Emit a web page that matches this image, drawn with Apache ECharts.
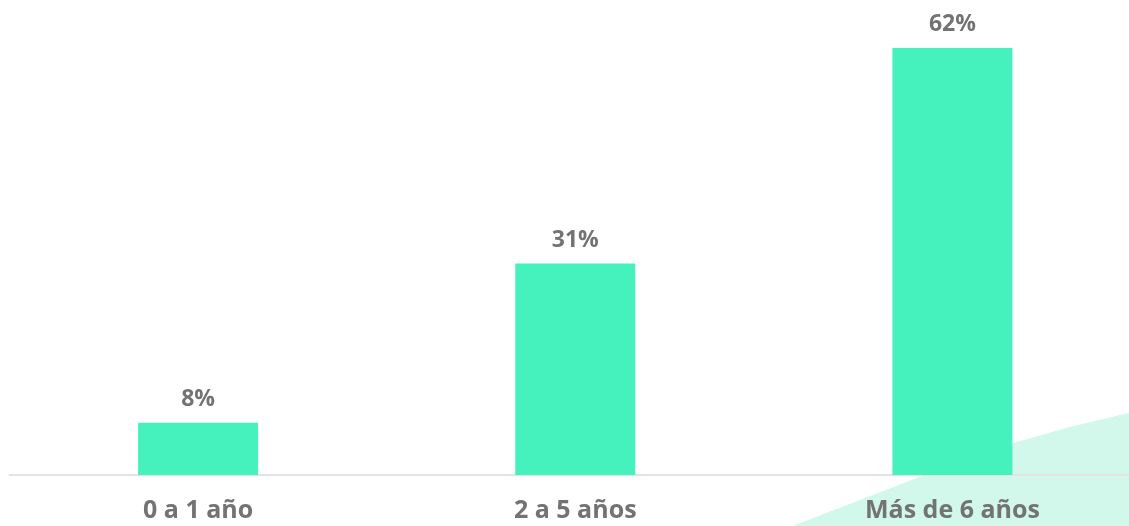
<!DOCTYPE html>
<html>
<head>
<meta charset="utf-8">
<script src="https://cdn.jsdelivr.net/npm/echarts@6/dist/echarts.min.js"></script>
<style>
html,body{margin:0;padding:0;background:#fff;overflow:hidden;width:1129px;height:526px;}
#c{width:1141px;height:526px;}
</style>
</head>
<body>
<div id="c"></div>
<script>
const categories = ['0 a 1 año', '2 a 5 años', 'Más de 6 años'];
const values = [7.6, 30.7, 62.0];

const chart = echarts.init(document.getElementById('c'), null, {renderer: 'canvas'});
chart.setOption({
  animation: false,
  backgroundColor: '#ffffff',
  graphic: [{
    type: 'polygon',
    z: 0,
    silent: true,
    shape: {points: [[790, 527], [917, 478], [1013, 443], [1070, 427], [1141, 410], [1141, 527]]},
    style: {fill: '#d1f8ea'}
  }],
  grid: {left: 9.5, right: 0, top: 48, bottom: 51, containLabel: false},
  xAxis: {
    type: 'category',
    data: categories,
    axisLine: {show: true, lineStyle: {color: '#e3e3e3', width: 2}},
    axisTick: {show: false},
    axisLabel: {
      color: '#737373', fontFamily: 'Open Sans', fontWeight: 'bold', fontSize: 25, margin: 23
    }
  },
  yAxis: {
    type: 'value', min: 0, max: 62,
    show: false, splitLine: {show: false}
  },
  series: [{
    type: 'bar',
    z: 2,
    data: values,
    barWidth: 120,
    itemStyle: {color: '#45f2bd'},
    label: {
      show: true, position: 'top', distance: 12,
      color: '#737373', fontFamily: 'Open Sans', fontWeight: 'bold', fontSize: 23,
      formatter: p => Math.round(p.value) + '%'
    }
  }]
});
</script>
</body>
</html>
